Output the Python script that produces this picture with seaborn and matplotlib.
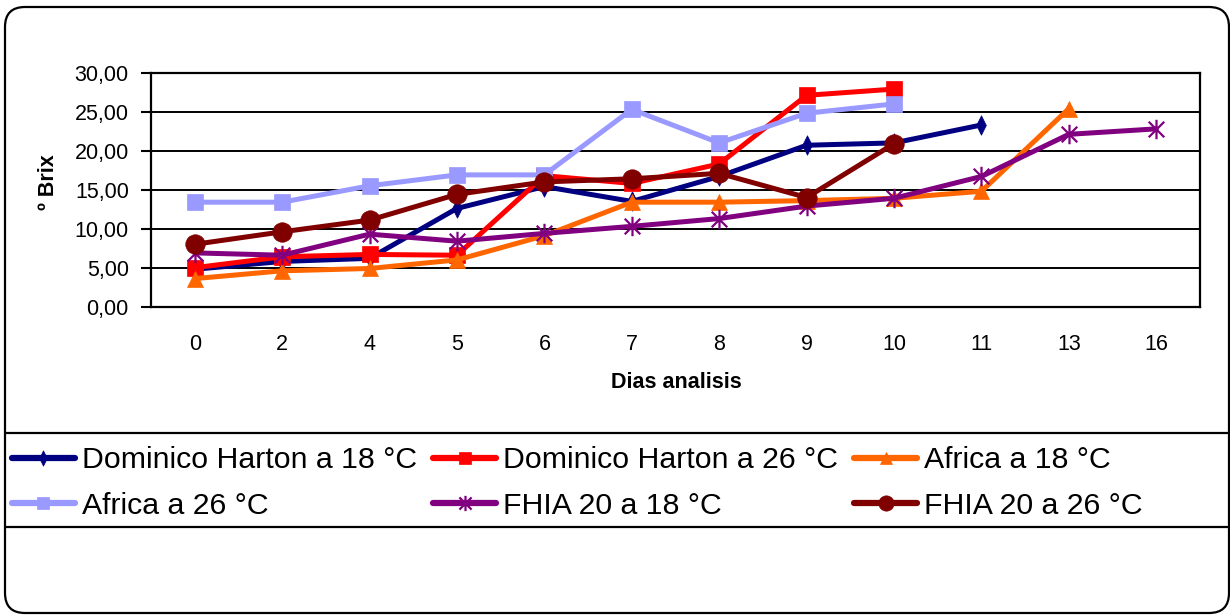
import numpy as np
import pandas as pd
import matplotlib
matplotlib.use("Agg")
import matplotlib.pyplot as plt
import matplotlib.patches as mpatches
import matplotlib.transforms as mtransforms
from matplotlib.lines import Line2D
from matplotlib.path import Path
import seaborn as sns

# ---- data -----------------------------------------------------------------
dias = ["0", "2", "4", "5", "6", "7", "8", "9", "10", "11", "13", "16"]
nan = np.nan
dominico_18 = [4.8, 5.8, 6.2, 12.6, 15.4, 13.5, 16.7, 20.7, 21.0, 23.3, nan, nan]
dominico_26 = [5.0, 6.4, 6.7, 6.6, 16.8, 15.8, 18.3, 27.1, 27.9, nan, nan, nan]
africa_18 = [3.6, 4.6, 4.9, 6.0, 9.1, 13.4, 13.4, 13.6, 13.9, 14.8, 25.4, nan]
africa_26 = [13.4, 13.4, 15.5, 16.9, 16.9, 25.3, 21.0, 24.8, 26.0, nan, nan, nan]
fhia_18 = [6.9, 6.6, 9.3, 8.4, 9.4, 10.3, 11.3, 12.9, 13.9, 16.7, 22.1, 22.8]
fhia_26 = [8.0, 9.6, 11.1, 14.4, 16.0, 16.4, 17.1, 14.0, 20.9, nan, nan, nan]

series_names = ["Dominico Harton a 18 °C", "Dominico Harton a 26 °C",
                "Africa a 18 °C", "Africa a 26 °C",
                "FHIA 20 a 18 °C", "FHIA 20 a 26 °C"]
series_values = [dominico_18, dominico_26, africa_18, africa_26, fhia_18, fhia_26]
colors = ["#000080", "#FF0000", "#FF6600", "#9999FF", "#800080", "#800000"]

# asterisk: an X with a vertical bar
asterisk = Path([(-1, -1), (1, 1), (-1, 1), (1, -1), (0, -1.25), (0, 1.25)],
                [Path.MOVETO, Path.LINETO, Path.MOVETO, Path.LINETO,
                 Path.MOVETO, Path.LINETO])
# tall, narrow diamond
diamond = Path([(0, 1), (0.5, 0), (0, -1), (-0.5, 0), (0, 1)],
               [Path.MOVETO, Path.LINETO, Path.LINETO, Path.LINETO, Path.CLOSEPOLY])
markers = [diamond, "s", "^", "s", asterisk, "o"]
msizes = [14, 11, 11, 11, 14, 14]
legend_msizes = [11, 8, 8, 8, 11, 11]
is_line_marker = [False, False, False, False, True, False]

# ---- styling --------------------------------------------------------------
sns.set_theme(style="white")
plt.rcParams["font.family"] = ["Liberation Sans", "DejaVu Sans"]
plt.rcParams["text.color"] = "black"

W, H = 1230, 616
fig = plt.figure(figsize=(W / 100, H / 100), dpi=100)
fig.patch.set_facecolor("white")

# plot area in pixel terms
left, right, top, bottom = 151, 1200, 72.7, 306.7
ax = fig.add_axes([left / W, 1 - bottom / H, (right - left) / W, (bottom - top) / H])
ax.set_facecolor("white")

pos = np.arange(len(dias))
for i, (name, vals) in enumerate(zip(series_names, series_values)):
    df = pd.DataFrame({"pos": pos, "brix": vals}).dropna()
    star = is_line_marker[i]
    sns.lineplot(data=df, x="pos", y="brix", ax=ax, color=colors[i],
                 linewidth=3.6, marker=markers[i], markersize=msizes[i],
                 markerfacecolor="none" if star else colors[i],
                 markeredgecolor=colors[i],
                 markeredgewidth=1.6 if star else 0.5,
                 zorder=3 + i, legend=False)

ax.set_xlim(-0.5, len(dias) - 0.5)
ax.set_ylim(0, 30)
ax.set_yticks(np.arange(0, 31, 5))
ax.set_yticklabels([f"{v:.2f}".replace(".", ",") for v in np.arange(0, 31, 5)])
ax.set_xticks(pos)
ax.set_xticklabels(dias)
ax.set_xticks(np.arange(-0.5, len(dias), 1), minor=True)
ax.tick_params(axis="x", which="major", length=0, pad=20, labelsize=15.5, colors="black")
ax.tick_params(axis="x", which="minor", length=6, width=1.5, direction="out", color="black")
ax.tick_params(axis="y", which="major", length=7, width=1.5, direction="out",
               pad=9, labelsize=15.5, colors="black", left=True)
ax.set_xlabel("")
ax.set_ylabel("")
ax.yaxis.grid(True, color="black", linewidth=1.4)
ax.xaxis.grid(False)
ax.set_axisbelow(True)
for s in ax.spines.values():
    s.set_visible(True)
    s.set_color("black")
    s.set_linewidth(1.6)

fig.text(48 / W, 1 - 182 / H, "º Brix", rotation=90, ha="center", va="center",
         fontsize=15.5, fontweight="bold")
fig.text(676 / W, 1 - 383 / H, "Dias analisis", ha="center", va="center",
         fontsize=15.5, fontweight="bold")

# ---- legend ---------------------------------------------------------------
handles = []
for i in range(6):
    star = is_line_marker[i]
    handles.append(Line2D([], [], color=colors[i], linewidth=4.5,
                          solid_capstyle="round", marker=markers[i],
                          markersize=legend_msizes[i],
                          markerfacecolor="none" if star else colors[i],
                          markeredgecolor=colors[i],
                          markeredgewidth=1.6 if star else 0.5))
order = [0, 3, 1, 4, 2, 5]
fig.legend([handles[k] for k in order], [series_names[k] for k in order],
           ncol=3, loc="upper left", bbox_to_anchor=(12 / W, 1 - 446.5 / H),
           frameon=False, fontsize=21.8, handlelength=2.08, handletextpad=0.23,
           columnspacing=0.53, labelspacing=0.57, borderpad=0, borderaxespad=0)

# ---- outer frame and legend separators -----------------------------------
ident = mtransforms.IdentityTransform()
frame = mpatches.FancyBboxPatch((5, 3), 1224, 606,
                                boxstyle="round,pad=0,rounding_size=20",
                                transform=ident, facecolor="none",
                                edgecolor="black", linewidth=1.6, zorder=10)
fig.add_artist(frame)
for yy in (433, 527):
    fig.add_artist(Line2D([5, 1229], [H - yy, H - yy], transform=ident,
                          color="black", linewidth=1.6, zorder=10))

fig.savefig("out.png", dpi=100, facecolor="white")
